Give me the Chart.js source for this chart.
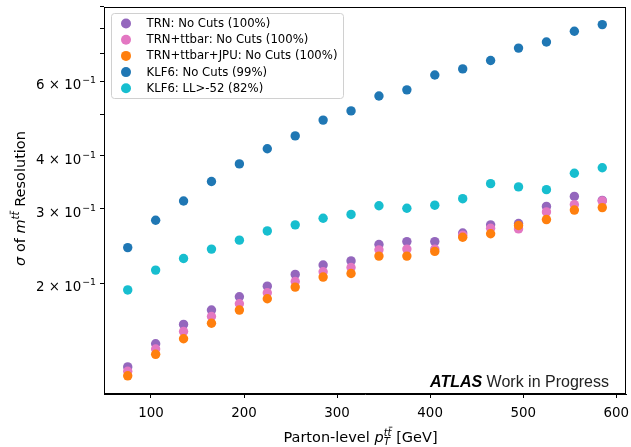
<!DOCTYPE html>
<html>
<head>
<meta charset="utf-8">
<script src="https://cdn.jsdelivr.net/npm/chart.js@4/dist/chart.umd.min.js"></script>
<style>
  html, body { margin: 0; padding: 0; background: #ffffff; }
  #chart { display: block; }
</style>
</head>
<body>
<canvas id="chart" width="631" height="447"></canvas>
<script>
// parton-level pT bin centres [GeV]
const pt_bins = [75, 105, 135, 165, 195, 225, 255, 285, 315, 345, 375, 405, 435, 465, 495, 525, 555, 585]

// sigma of m_ttbar resolution per bin
const trn_nocuts = [0.127, 0.144, 0.160, 0.173, 0.186, 0.197, 0.210, 0.221, 0.226, 0.247, 0.251, 0.251, 0.263, 0.275, 0.277, 0.304, 0.321, 0.314]
const trn_ttbar_nocuts = [0.124, 0.140, 0.154, 0.167, 0.179, 0.190, 0.202, 0.213, 0.218, 0.240, 0.241, 0.241, 0.260, 0.270, 0.269, 0.295, 0.307, 0.313]
const trn_ttbar_jpu_nocuts = [0.121, 0.136, 0.148, 0.161, 0.173, 0.184, 0.196, 0.207, 0.211, 0.232, 0.232, 0.238, 0.257, 0.262, 0.274, 0.283, 0.298, 0.302]
const klf6_nocuts = [0.243, 0.282, 0.313, 0.348, 0.383, 0.416, 0.446, 0.486, 0.511, 0.554, 0.573, 0.621, 0.642, 0.672, 0.719, 0.743, 0.788, 0.817]
const klf6_llcut = [0.193, 0.215, 0.229, 0.241, 0.253, 0.266, 0.275, 0.285, 0.291, 0.305, 0.301, 0.306, 0.317, 0.344, 0.338, 0.333, 0.364, 0.375]

const legend_labels = [
    'TRN: No Cuts (100%)',
    'TRN+ttbar: No Cuts (100%)',
    'TRN+ttbar+JPU: No Cuts (100%)',
    'KLF6: No Cuts (99%)',
    'KLF6: LL>-52 (82%)'
]
const colors = ['#9467bd', '#e377c2', '#ff7f0e', '#1f77b4', '#17becf']

const x_ticks = [100, 200, 300, 400, 500, 600]
const y_ticks = [0.2, 0.3, 0.4, 0.5, 0.6, 0.7, 0.8, 0.9]
// y tick labels as "m × 10^e"; empty mantissa = unlabelled minor tick
const y_tick_mantissa = ['2', '3', '4', '', '6', '', '', '']
const y_tick_exponent = '−1'

const FONT = '"DejaVu Sans", sans-serif'

// draws a list of text runs (normal / italic / sub / superscript) starting at x
function run_font(r, size) {
    return (r.italic ? 'italic ' : '') + (size * (r.scale || 1)).toFixed(2) + 'px ' + FONT
}

function runs_width(ctx, runs, size) {
    let w = 0
    runs.forEach(r => {
        ctx.font = run_font(r, size)
        if (!r.back) w += ctx.measureText(r.text).width
    })
    return w
}

function draw_runs(ctx, runs, x, y, size) {
    runs.forEach(r => {
        ctx.font = run_font(r, size)
        const s = size * (r.scale || 1)
        const yy = y + (r.dy || 0) * size
        const w = ctx.measureText(r.text).width
        ctx.fillText(r.text, x, yy)
        if (r.bar) {
            // bar over the last character (t-bar)
            const cw = ctx.measureText(r.text.slice(-1)).width
            ctx.beginPath()
            ctx.lineWidth = Math.max(0.8, s * 0.06)
            ctx.moveTo(x + w - cw + s * 0.12, yy - s * 0.86)
            ctx.lineTo(x + w + s * 0.08, yy - s * 0.86)
            ctx.stroke()
        }
        if (!r.back) x += w
    })
}

const y_title = [
    {text: 'σ', italic: true},
    {text: ' of '},
    {text: 'm', italic: true},
    {text: 'tt', italic: true, scale: 0.7, dy: -0.42, bar: true},
    {text: ' Resolution'}
]
const x_title = [
    {text: 'Parton-level '},
    {text: 'p', italic: true},
    {text: 'T', italic: true, scale: 0.7, dy: 0.22, back: true},
    {text: 'tt', italic: true, scale: 0.7, dy: -0.42, bar: true},
    {text: ' [GeV]'}
]

const decorations = {
    id: 'decorations',
    afterDatasetsDraw(chart) {
        const ctx = chart.ctx
        const a = chart.chartArea
        const ys = chart.scales.y
        ctx.save()

        // frame on all four sides
        ctx.strokeStyle = '#000000'
        ctx.lineWidth = 1
        ctx.strokeRect(Math.round(a.left) + 0.5, Math.round(a.top) + 0.5,
            Math.round(a.right - a.left) - 1, Math.round(a.bottom - a.top) - 1)

        // y tick labels with superscript exponent
        ctx.fillStyle = '#000000'
        ctx.textBaseline = 'alphabetic'
        y_ticks.forEach((v, i) => {
            if (!y_tick_mantissa[i]) return
            const py = ys.getPixelForValue(v) + 8
            ctx.font = '9.4px ' + FONT
            const ew = ctx.measureText(y_tick_exponent).width
            const ex = a.left - 8 - ew
            ctx.fillText(y_tick_exponent, ex, py - 6)
            ctx.font = '13.4px ' + FONT
            const base = y_tick_mantissa[i] + ' × 10'
            const bw = ctx.measureText(base).width
            ctx.fillText(base, ex - 1 - bw, py)
        })

        // legend box
        const lx = 111, ly = 13, lw = 232, lh = 85
        ctx.beginPath()
        ctx.roundRect(lx + 0.5, ly + 0.5, lw, lh, 3)
        ctx.fillStyle = 'rgba(255,255,255,0.85)'
        ctx.fill()
        ctx.strokeStyle = '#d0d0d0'
        ctx.lineWidth = 1
        ctx.stroke()

        ctx.font = '11.7px ' + FONT
        ctx.textBaseline = 'middle'
        legend_labels.forEach((label, i) => {
            const yy = 23.5 + i * 16.2
            ctx.beginPath()
            ctx.arc(126, yy, 5, 0, Math.PI * 2)
            ctx.fillStyle = colors[i]
            ctx.fill()
            ctx.fillStyle = '#000000'
            ctx.fillText(label, 146.5, yy + 0.5)
        })

        // experiment tag
        ctx.textBaseline = 'alphabetic'
        ctx.font = '16px "Liberation Sans", Arial, sans-serif'
        const tag = ' Work in Progress'
        const tag_w = ctx.measureText(tag).width
        ctx.fillStyle = '#222222'
        ctx.fillText(tag, 609 - tag_w, 387)
        ctx.font = 'italic bold 16px "Liberation Sans", Arial, sans-serif'
        const atlas_w = ctx.measureText('ATLAS').width
        ctx.fillStyle = '#000000'
        ctx.fillText('ATLAS', 609 - tag_w - atlas_w, 387)

        // axis titles
        ctx.fillStyle = '#000000'
        ctx.strokeStyle = '#000000'
        const size = 14.5
        const xw = runs_width(ctx, x_title, size)
        draw_runs(ctx, x_title, 360.5 - xw / 2, 442, size)

        ctx.translate(25, 198.5)
        ctx.rotate(-Math.PI / 2)
        const yw = runs_width(ctx, y_title, size)
        draw_runs(ctx, y_title, -yw / 2, 0, size)

        ctx.restore()
    }
}

function make_datasets() {
    const series = [trn_nocuts, trn_ttbar_nocuts, trn_ttbar_jpu_nocuts, klf6_nocuts, klf6_llcut]
    return series.map((vals, i) => ({
        label: legend_labels[i],
        data: pt_bins.map((x, j) => ({x: x, y: vals[j]})),
        backgroundColor: colors[i],
        borderWidth: 0,
        pointRadius: 4.7,
        pointHoverRadius: 4.7,
        order: series.length - i
    }))
}

new Chart(document.getElementById('chart'), {
    type: 'scatter',
    data: {datasets: make_datasets()},
    plugins: [decorations],
    options: {
        responsive: false,
        animation: false,
        devicePixelRatio: 1,
        layout: {padding: {left: 0, right: 5, top: 7, bottom: 0}},
        plugins: {
            legend: {display: false},
            tooltip: {enabled: false}
        },
        scales: {
            x: {
                type: 'linear',
                min: 49.5,
                max: 610.5,
                afterBuildTicks: scale => { scale.ticks = x_ticks.map(v => ({value: v})) },
                afterFit: scale => { scale.height = 53; scale.paddingLeft = 0; scale.paddingRight = 0 },
                grid: {display: true, drawOnChartArea: false, drawTicks: true, tickLength: 4, color: '#000000', lineWidth: 1},
                border: {display: true, color: '#000000'},
                ticks: {color: '#000000', font: {family: FONT, size: 13.4}, padding: 7, maxRotation: 0}
            },
            y: {
                type: 'logarithmic',
                min: 0.1096,
                max: 0.899,
                afterBuildTicks: scale => { scale.ticks = y_ticks.map(v => ({value: v})) },
                afterFit: scale => { scale.width = 104; scale.paddingTop = 0; scale.paddingBottom = 0 },
                grid: {display: true, drawOnChartArea: false, drawTicks: true, tickLength: 4, color: '#000000', lineWidth: 1},
                border: {display: true, color: '#000000'},
                ticks: {display: false}
            }
        }
    }
})
</script>
</body>
</html>
